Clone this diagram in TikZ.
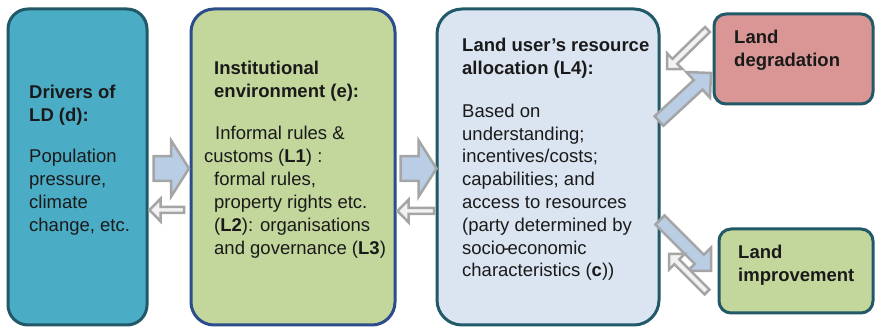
\documentclass[tikz,border=0pt]{standalone}
\usepackage{fontspec}
\setmainfont{Liberation Sans}
\usetikzlibrary{calc}
\definecolor{drvfill}{HTML}{4BACC6}
\definecolor{tealline}{HTML}{215968}
\definecolor{greenfill}{HTML}{C3D69B}
\definecolor{blueline}{HTML}{2C4D8C}
\definecolor{palefill}{HTML}{DBE5F1}
\definecolor{redfill}{HTML}{D99694}
\definecolor{arrblue}{HTML}{B9CDE5}
\definecolor{arrwhite}{HTML}{F2F2F2}
\definecolor{arrgray}{HTML}{A5A5A5}
\definecolor{txt}{HTML}{1A1A1A}
% block arrow: #1 tail, #2 tip, #3 shaft half width, #4 head half width, #5 head length, #6 style
\newcommand\blockarr[6]{%
  \coordinate (hb) at ($(#2)!#5!(#1)$);
  \draw[#6] ($(#1)!#3!90:(#2)$) -- ($(hb)!#3!90:(#2)$) -- ($(hb)!#4!90:(#2)$) -- (#2)
    -- ($(hb)!#4!-90:(#2)$) -- ($(hb)!#3!-90:(#2)$) -- ($(#1)!#3!-90:(#2)$) -- cycle;}
\begin{document}
\begin{tikzpicture}[x=1pt,y=-1pt,
  box/.style={draw=tealline, line width=3pt, rounded corners=#1, inner sep=0pt},
  box/.default=20pt,
  bigarr/.style={fill=arrblue, draw=arrgray, line width=2.5pt, line join=miter},
  smallarr/.style={fill=arrwhite, draw=arrgray, line width=2.5pt, line join=miter},
  txtline/.style={anchor=base west, inner sep=0pt, text=txt, font=\fontsize{18.5}{23}\selectfont},
  headline/.style={txtline, font=\fontsize{18.5}{23}\selectfont\bfseries}]
\useasboundingbox (0,0) rectangle (875,328);
% main boxes
\node[box=20pt, fill=drvfill, minimum width=139pt, minimum height=316pt] (drv) at (77.5,167) {};
\node[box=23pt, draw=blueline, fill=greenfill, minimum width=204pt, minimum height=316pt] (inst) at (293,167) {};
\node[box=25pt, fill=palefill, minimum width=222pt, minimum height=316pt] (user) at (548,167) {};
% coordinates for arrows
\coordinate (r1t) at (153.5,168.5); \coordinate (r1h) at (189,168.5);
\coordinate (l1t) at (184,210); \coordinate (l1h) at (149.5,210);
\coordinate (r2t) at (400.5,168.5); \coordinate (r2h) at (436.5,168.5);
\coordinate (l2t) at (434,211); \coordinate (l2h) at (397.5,211);
\coordinate (dgt) at (659,121); \coordinate (dgh) at (711,73);
\coordinate (dst) at (707.5,29.5); \coordinate (dsh) at (667,69);
\coordinate (igt) at (660,220); \coordinate (igh) at (711,271);
\coordinate (ist) at (707,292); \coordinate (ish) at (669,254);
% arrows
\blockarr{r1t}{r1h}{12.3pt}{28.3pt}{18pt}{bigarr}
\blockarr{l1t}{l1h}{3pt}{11.3pt}{11pt}{smallarr}
\blockarr{r2t}{r2h}{12.3pt}{28.3pt}{18pt}{bigarr}
\blockarr{l2t}{l2h}{3pt}{11.3pt}{11pt}{smallarr}
\blockarr{dgt}{dgh}{6.5pt}{17.5pt}{17.5pt}{bigarr}
\blockarr{dst}{dsh}{3.5pt}{11pt}{11pt}{smallarr}
\blockarr{igt}{igh}{6.5pt}{16.5pt}{16.5pt}{bigarr}
\blockarr{ist}{ish}{3.5pt}{11pt}{11pt}{smallarr}
% outcome boxes
\node[box=12pt, fill=redfill, minimum width=159pt, minimum height=90pt] (deg) at (793.5,59) {};
\node[box=12pt, fill=greenfill, minimum width=154pt, minimum height=84pt] (imp) at (796,271) {};
% texts: drivers
\foreach \t [count=\i from 0] in {{Drivers of}, {LD (d):}}
  \node[headline] (drvh\i) at (29,{98.3+23*\i}) {\t};
\foreach \t [count=\i from 0] in {{Population}, {pressure,}, {climate}, {change, etc.}}
  \node[txtline] (drvb\i) at (29,{162.3+23*\i}) {\t};
% texts: institutional
\foreach \t [count=\i from 0] in {{Institutional}, {environment (e):}}
  \node[headline] (insth\i) at (214,{75+23*\i}) {\t};
\foreach \xx/\t [count=\i from 0] in {215/{Informal rules \&}, 204/{customs (\textbf{L1}) :}, 214/{formal rules,}, 214/{property rights etc.}, 214/{(\textbf{L2}): organisations}, 214/{and governance (\textbf{L3})}}
  \node[txtline] (instb\i) at (\xx,{139.3+23*\i}) {\t};
% texts: land user
\foreach \t [count=\i from 0] in {{Land user’s resource}, {allocation (L4):}}
  \node[headline] (userh\i) at (462,{52+23*\i}) {\t};
\foreach \t [count=\i from 0] in {{Based on}, {understanding;}, {incentives/costs;}, {capabilities; and}, {access to resources}, {(party determined by}, {socio\kern-2pt-\kern-2pt economic}, {characteristics (\textbf{c}))}}
  \node[txtline] (userb\i) at (462,{117.3+22.8*\i}) {\t};
% texts: outcomes
\node[headline] (degh0) at (734,43.3) {Land};
\node[headline] (degh1) at (734,66.7) {degradation};
\node[headline] (imph0) at (738,258.3) {Land};
\node[headline] (imph1) at (738,281.7) {improvement};
\end{tikzpicture}
\end{document}
